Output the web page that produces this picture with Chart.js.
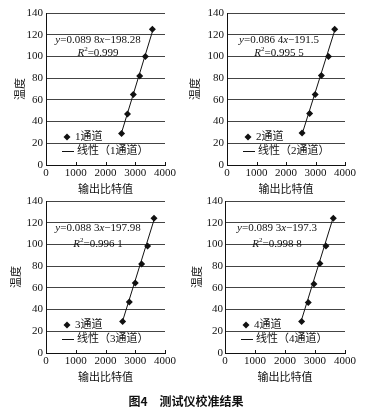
<!DOCTYPE html>
<html>
<head>
<meta charset="utf-8">
<script src="https://cdn.jsdelivr.net/npm/chart.js@4.4.1/dist/chart.umd.min.js"></script>
<style>
    body { margin: 0; background: #fff; }
    #page { position: relative; width: 372px; height: 412px; overflow: hidden; }
    .cell { position: absolute; width: 186px; height: 200px; }
    #caption {
        position: absolute; left: 0; top: 392px; width: 372px; text-align: center;
        font: bold 12px "Noto Sans CJK SC", sans-serif; white-space: pre; color: #111;
    }
</style>
</head>
<body>
<div id="page">
    <div class="cell" style="left:0;top:0"><canvas id="c1" width="186" height="200"></canvas></div>
    <div class="cell" style="left:186px;top:0"><canvas id="c2" width="186" height="200"></canvas></div>
    <div class="cell" style="left:0;top:188px"><canvas id="c3" width="186" height="200"></canvas></div>
    <div class="cell" style="left:186px;top:188px"><canvas id="c4" width="186" height="200"></canvas></div>
    <div id="caption">图4　测试仪校准结果</div>
</div>
<script>
'use strict';

const ch1X = [2540, 2740, 2935, 3150, 3340, 3575];
const ch1Y = [29, 47, 65, 82, 100, 125];
const ch2X = [2545, 2800, 2990, 3200, 3440, 3650];
const ch2Y = [29.5, 47.5, 65, 82.5, 100, 125];
const ch3X = [2575, 2800, 3000, 3215, 3415, 3630];
const ch3Y = [29, 47, 64.5, 82, 98.5, 124];
const ch4X = [2555, 2775, 2965, 3165, 3365, 3610];
const ch4Y = [29, 46.5, 63.5, 82.5, 98.5, 124];

// trend line ends
const fit1X = [2530, 3610];
const fit1Y = [28.9, 125.9];
const fit2X = [2545, 3660];
const fit2Y = [28.4, 124.7];
const fit3X = [2570, 3640];
const fit3Y = [29, 123.4];
const fit4X = [2540, 3605];
const fit4Y = [29.5, 124.6];

const channelNames = ['1通道', '2通道', '3通道', '4通道'];
const slopes = ['0.089 8', '0.086 4', '0.088 3', '0.089 3'];
const intercepts = ['198.28', '191.5', '197.98', '197.3'];
const rSquared = ['0.999', '0.995 5', '0.996 1', '0.998 8'];

const xTicks = [0, 1000, 2000, 3000, 4000];
const xTitle = '输出比特值';
const yTitle = '温度';

const serif = '"Liberation Serif", "Noto Sans CJK SC", serif';
const cjk = '"Liberation Serif", "Noto Sans CJK SC", sans-serif';

function pairs(xs, ys) {
    return xs.map((x, i) => ({x: x, y: ys[i]}));
}

function drawRich(ctx, parts, cx, cy) {
    let total = 0;
    parts.forEach(p => {
        ctx.font = p.font;
        p.w = ctx.measureText(p.t).width;
        total += p.w;
    });
    let x = cx - total / 2;
    ctx.textAlign = 'left';
    ctx.textBaseline = 'middle';
    parts.forEach(p => {
        ctx.font = p.font;
        ctx.fillText(p.t, x, cy + (p.dy || 0));
        x += p.w;
    });
}

const overlay = {
    id: 'overlay',
    afterDraw(chart, args, opts) {
        const ctx = chart.ctx;
        const area = chart.chartArea;
        const xs = chart.scales.x;
        ctx.save();
        ctx.fillStyle = '#111';
        ctx.strokeStyle = '#111';

        // small tick marks inside the x axis
        ctx.lineWidth = 1;
        xTicks.slice(1).forEach(v => {
            const px = Math.round(xs.getPixelForValue(v)) + 0.5;
            ctx.beginPath();
            ctx.moveTo(px, area.bottom);
            ctx.lineTo(px, area.bottom - 3);
            ctx.stroke();
        });

        // equation and R^2
        const n = '11px ' + serif;
        const it = 'italic 11px ' + serif;
        const ex = area.left + opts.eqX;
        drawRich(ctx, [
            {t: 'y', font: it}, {t: '=' + opts.slope, font: n},
            {t: 'x', font: it}, {t: '\u2212' + opts.intercept, font: n}
        ], ex, area.top + opts.eqY);
        drawRich(ctx, [
            {t: 'R', font: it}, {t: '2', font: '7px ' + serif, dy: -4},
            {t: '=' + opts.r2, font: n}
        ], ex, area.top + opts.r2Y);

        // legend inside the plot
        const ds = chart.data.datasets;
        const ly1 = area.top + 124;
        const ly2 = area.top + 138;
        const mx = area.left + 21;
        ctx.beginPath();
        ctx.moveTo(mx, ly1 - 3.5);
        ctx.lineTo(mx + 3.5, ly1);
        ctx.lineTo(mx, ly1 + 3.5);
        ctx.lineTo(mx - 3.5, ly1);
        ctx.closePath();
        ctx.fill();
        ctx.beginPath();
        ctx.moveTo(area.left + 16, ly2 + 0.5);
        ctx.lineTo(area.left + 28, ly2 + 0.5);
        ctx.stroke();
        ctx.font = '11px ' + cjk;
        ctx.textAlign = 'left';
        ctx.textBaseline = 'middle';
        ctx.fillText(ds[0].label, area.left + 29, ly1);
        ctx.fillText(ds[1].label, area.left + 31, ly2);
        ctx.restore();
    }
};

function makeChart(id, px, py, fx, fy, idx, lay) {
    const ctx = document.getElementById(id).getContext('2d');
    return new Chart(ctx, {
        type: 'scatter',
        data: {
            datasets: [{
                label: channelNames[idx],
                data: pairs(px, py),
                pointStyle: 'rectRot',
                pointRadius: 3.5,
                backgroundColor: '#111',
                borderColor: '#111',
                borderWidth: 0,
                showLine: false
            }, {
                label: '线性（' + channelNames[idx] + '）',
                data: pairs(fx, fy),
                showLine: true,
                pointRadius: 0,
                borderColor: '#111',
                borderWidth: 1
            }]
        },
        options: {
            responsive: false,
            animation: false,
            layout: {padding: {left: 0, right: 186 - lay.right, top: 13, bottom: 0}},
            plugins: {
                legend: {display: false},
                tooltip: {enabled: false},
                overlay: {
                    slope: slopes[idx], intercept: intercepts[idx], r2: rSquared[idx],
                    eqX: 52, eqY: 27, r2Y: lay.r2Y
                }
            },
            scales: {
                x: {
                    type: 'linear',
                    min: 0,
                    max: 4000,
                    afterFit: s => { s.height = 35; },
                    afterBuildTicks: s => { s.ticks = xTicks.map(v => ({value: v})); },
                    ticks: {
                        padding: 2, color: '#111', font: {family: serif, size: 11},
                        maxRotation: 0, minRotation: 0, autoSkip: false,
                        callback: v => String(v)
                    },
                    grid: {drawOnChartArea: false, drawTicks: false},
                    border: {display: true, color: '#111', width: 1},
                    title: {display: true, text: xTitle, color: '#111',
                        font: {family: cjk, size: 11}, padding: {top: 0, bottom: 3.4}}
                },
                y: {
                    min: 0,
                    max: 140,
                    afterFit: s => { s.width = lay.left; },
                    ticks: {stepSize: 20, padding: lay.tickPad, color: '#111', font: {family: serif, size: 11}},
                    grid: {color: '#444', lineWidth: 1, drawTicks: false},
                    border: {display: true, color: '#111', width: 1},
                    title: {display: true, text: yTitle, color: '#111',
                        font: {family: cjk, size: 11}, padding: {top: lay.titlePad, bottom: 0}}
                }
            }
        },
        plugins: [overlay]
    });
}

makeChart('c1', ch1X, ch1Y, fit1X, fit1Y, 0, {left: 46, right: 165, tickPad: 3, titlePad: 15, r2Y: 40});
makeChart('c2', ch2X, ch2Y, fit2X, fit2Y, 1, {left: 41, right: 159, tickPad: 3, titlePad: 3.4, r2Y: 40});
makeChart('c3', ch3X, ch3Y, fit3X, fit3Y, 2, {left: 46, right: 165, tickPad: 3, titlePad: 11, r2Y: 43});
makeChart('c4', ch4X, ch4Y, fit4X, fit4Y, 3, {left: 39, right: 159, tickPad: 2, titlePad: 5.4, r2Y: 43});
</script>
</body>
</html>
